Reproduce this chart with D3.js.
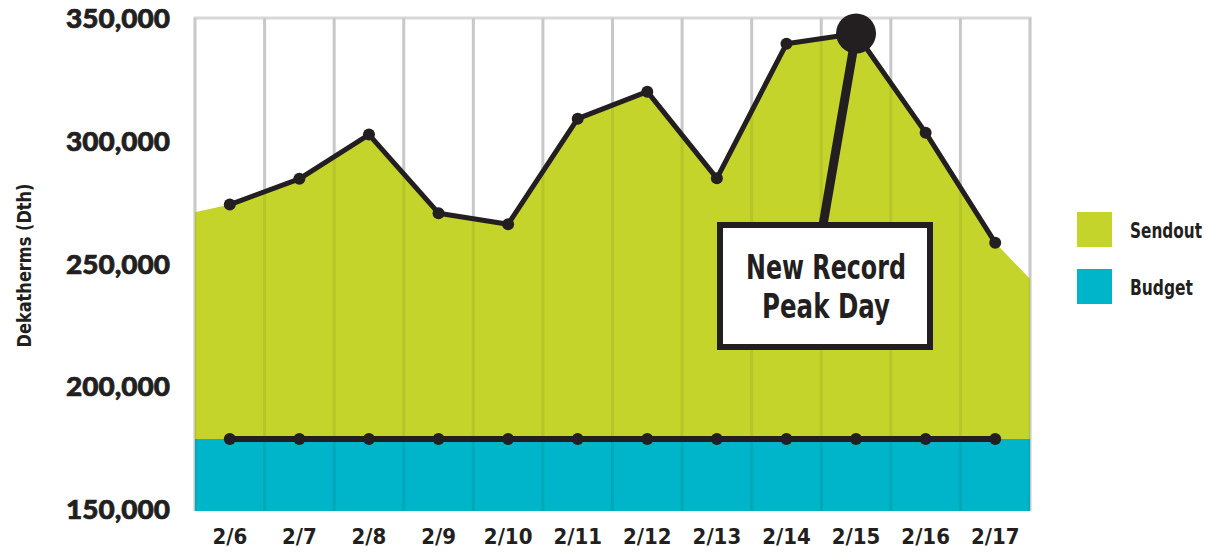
<!DOCTYPE html>
<html>
<head>
<meta charset="utf-8">
<script src="https://cdn.jsdelivr.net/npm/d3@7"></script>
<style>
  body { margin: 0; background: #fff; }
  svg { display: block; }
  .cond { font-family: "Liberation Sans Narrow", "DejaVu Sans Condensed", "Roboto", sans-serif; font-stretch: condensed; font-weight: bold; fill: #231f20; }
  .ytick { font-family: "Lato", "Roboto", sans-serif; font-weight: 900; fill: #231f20; stroke: #231f20; stroke-width: 0.7px; }
</style>
</head>
<body>
<div id="chart"></div>
<script>
// data
const days = ["2/6", "2/7", "2/8", "2/9", "2/10", "2/11", "2/12", "2/13", "2/14", "2/15", "2/16", "2/17"];
const sendout = [274000, 284500, 302500, 270500, 266000, 309000, 320000, 284700, 339500, 343700, 303300, 258500];
// sendout value where the shaded area meets the left / right edge of the plot
const sendoutEdges = [270900, 243700];
const budget = [178500, 178500, 178500, 178500, 178500, 178500, 178500, 178500, 178500, 178500, 178500, 178500];
const yTicks = [150000, 200000, 250000, 300000, 350000];
const peakDay = "2/15";
const calloutLines = ["New Record", "Peak Day"];
const legendItems = ["Sendout", "Budget"];

const W = 1207, H = 553;
const colGreen = "#c4d42b", colTeal = "#00b5c9", colInk = "#231f20";

const margin = { top: 18, right: 177, bottom: 42, left: 195 };
const width = W - margin.left - margin.right,
      height = H - margin.top - margin.bottom;

const svg = d3.select("#chart").append("svg")
    .attr("width", W)
    .attr("height", H);

const g = svg.append("g")
    .attr("transform", "translate(" + margin.left + "," + margin.top + ")");

let x = d3.scaleBand().domain(days).range([0, width]).paddingInner(0).paddingOuter(0);
let y = d3.scaleLinear().domain([150000, 350000]).range([height - 2, 0]);
const cx = d => x(d) + x.bandwidth() / 2;

// grid (under the fills)
const bounds = days.map(d => x(d)).concat([width]);
g.append("g").selectAll("line").data(bounds).enter().append("line")
    .attr("x1", d => d).attr("x2", d => d)
    .attr("y1", 0).attr("y2", height)
    .attr("stroke", "#d8d8d8").attr("stroke-width", 3);
g.append("line")
    .attr("x1", -1.5).attr("x2", width + 1.5)
    .attr("y1", 0).attr("y2", 0)
    .attr("stroke", "#d8d8d8").attr("stroke-width", 3);

// sendout area, running to the plot edges
const areaPts = [{ px: 0, v: sendoutEdges[0] }]
    .concat(days.map((d, i) => ({ px: cx(d), v: sendout[i] })))
    .concat([{ px: width, v: sendoutEdges[1] }]);

g.append("path")
    .datum(areaPts)
    .attr("fill", colGreen)
    .attr("d", d3.area().x(d => d.px).y0(height).y1(d => y(d.v)));

// budget block
const budgetPts = [{ px: 0, v: budget[0] }]
    .concat(days.map((d, i) => ({ px: cx(d), v: budget[i] })))
    .concat([{ px: width, v: budget[budget.length - 1] }]);
g.append("path")
    .datum(budgetPts)
    .attr("fill", colTeal)
    .attr("d", d3.area().x(d => d.px).y0(height).y1(d => y(d.v)));

// faint grid over the fills
g.append("g").selectAll("line").data(bounds).enter().append("line")
    .attr("x1", d => d).attr("x2", d => d)
    .attr("y1", d => 0).attr("y2", height)
    .attr("stroke", "#000").attr("stroke-opacity", 0.07).attr("stroke-width", 3);

// y axis labels
const yAxis = g.append("g")
    .attr("transform", "translate(-25,0)")
    .call(d3.axisLeft(y).tickValues(yTicks).tickSize(0).tickPadding(0).tickFormat(d3.format(",")));
yAxis.select(".domain").remove();
yAxis.selectAll("text")
    .attr("class", "ytick")
    .attr("font-size", 27)
    .attr("dy", "0.36em")
    .attr("textLength", 104)
    .attr("lengthAdjust", "spacingAndGlyphs");

// x axis labels
const xAxis = g.append("g")
    .attr("transform", "translate(0," + height + ")")
    .call(d3.axisBottom(x).tickSize(0).tickPadding(17));
xAxis.select(".domain").remove();
xAxis.selectAll("text")
    .attr("class", "cond")
    .attr("font-size", 22)
    .attr("dy", "0.71em");

// y title
svg.append("text")
    .attr("class", "cond")
    .attr("font-size", 19)
    .attr("text-anchor", "middle")
    .attr("transform", "translate(31," + (margin.top + height / 2 + 1) + ") rotate(-90)")
    .attr("textLength", 164)
    .attr("lengthAdjust", "spacingAndGlyphs")
    .text("Dekatherms (Dth)");

// budget line + dots
const line = d3.line().x(d => cx(d.day)).y(d => y(d.v));
const budgetData = days.map((d, i) => ({ day: d, v: budget[i] }));
g.append("path").datum(budgetData)
    .attr("fill", "none").attr("stroke", colInk).attr("stroke-width", 6)
    .attr("d", line);
g.append("g").selectAll("circle").data(budgetData).enter().append("circle")
    .attr("cx", d => cx(d.day)).attr("cy", d => y(d.v)).attr("r", 6)
    .attr("fill", colInk);

// sendout line + dots
const sendData = days.map((d, i) => ({ day: d, v: sendout[i] }));
g.append("path").datum(sendData)
    .attr("fill", "none").attr("stroke", colInk).attr("stroke-width", 5)
    .attr("stroke-linejoin", "round")
    .attr("d", line);
g.append("g").selectAll("circle").data(sendData).enter().append("circle")
    .attr("cx", d => cx(d.day)).attr("cy", d => y(d.v))
    .attr("r", d => d.day === peakDay ? 20 : 6)
    .attr("fill", colInk);

// callout
const peak = sendData.find(d => d.day === peakDay);
const box = { x: 522, y: 204, w: 216, h: 128 };
g.append("line")
    .attr("x1", cx(peak.day)).attr("y1", y(peak.v))
    .attr("x2", box.x + box.w / 2 - 2).attr("y2", box.y + 3)
    .attr("stroke", colInk).attr("stroke-width", 9);
g.append("rect")
    .attr("x", box.x + 3).attr("y", box.y + 3)
    .attr("width", box.w - 6).attr("height", box.h - 6)
    .attr("fill", "#fff").attr("stroke", colInk).attr("stroke-width", 6);
g.selectAll(".callout").data(calloutLines).enter().append("text")
    .attr("class", "cond callout")
    .attr("font-size", 34)
    .attr("text-anchor", "middle")
    .attr("x", box.x + box.w / 2 + 1)
    .attr("y", (d, i) => box.y + 57 + i * 39)
    .attr("textLength", (d, i) => i === 0 ? 160 : 128)
    .attr("lengthAdjust", "spacingAndGlyphs")
    .text(d => d);

// legend
const legend = svg.append("g").attr("transform", "translate(1077,212)");
const li = legend.selectAll("g").data(legendItems).enter().append("g")
    .attr("transform", (d, i) => "translate(0," + i * 57 + ")");
li.append("rect")
    .attr("width", 35).attr("height", 35)
    .attr("fill", (d, i) => i === 0 ? colGreen : colTeal);
// squeeze the label to the width seen in the picture
const legendWidths = [72, 63];
li.append("text")
    .attr("class", "cond")
    .attr("font-size", 22)
    .text(d => d)
    .attr("transform", function (d, i) {
        const s = Math.min(1, legendWidths[i] / this.getComputedTextLength());
        return "translate(53,26) scale(" + s + ",1)";
    });
</script>
</body>
</html>
